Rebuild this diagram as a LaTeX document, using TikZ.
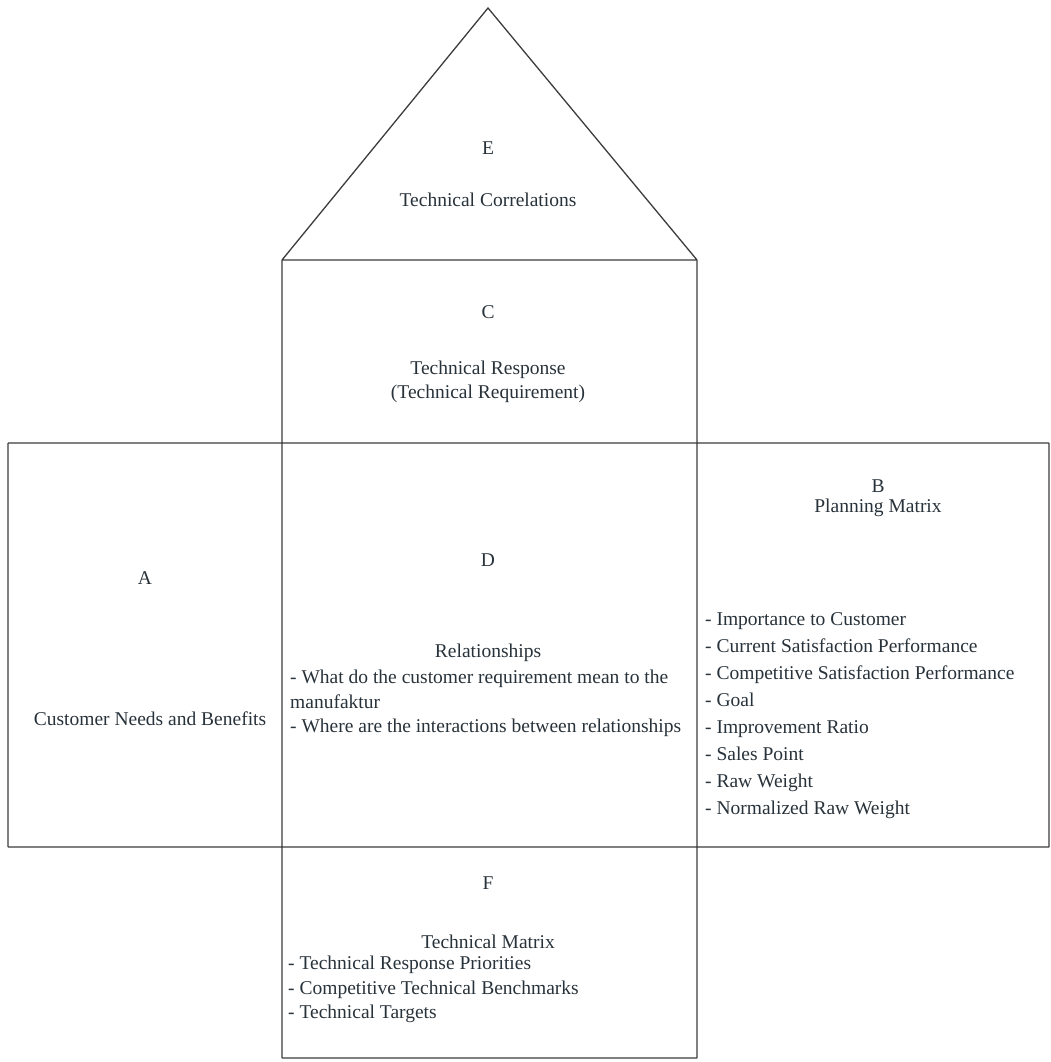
\documentclass[tikz,border=0pt]{standalone}
\usepackage{fontspec}
\setmainfont{Liberation Serif}
\usepackage{tikz}
\definecolor{inkgray}{RGB}{40,50,58}
\definecolor{linegray}{RGB}{60,60,60}

\begin{document}
\begin{tikzpicture}[x=1pt,y=-1pt,
	every node/.style={text=inkgray,font=\fontsize{19.5}{24.5}\selectfont,inner sep=0pt},
	lst/.style={anchor=north west,align=left},
	wall/.style={draw=linegray,line width=1.3pt}]
		\useasboundingbox (0,0) rectangle (1051,1062);

		% corners of the house
		\path (488,8) coordinate (apex)
		(282,260) coordinate (roofl)
		(697,260) coordinate (roofr)
		(8,443) coordinate (tl)
		(282,443) coordinate (cl)
		(697,443) coordinate (cr)
		(1049,443) coordinate (tr)
		(8,847) coordinate (bl)
		(282,847) coordinate (fl)
		(697,847) coordinate (fr)
		(1049,847) coordinate (br)
		(282,1058) coordinate (fbl)
		(697,1058) coordinate (fbr);

		\draw[wall] (roofl) -- (apex) -- (roofr)
		(roofl) -- (roofr)
		(roofl) -- (cl)
		(roofr) -- (cr)
		(tl) -- (tr)
		(bl) -- (br)
		(tl) -- (bl)
		(tr) -- (br)
		(cl) -- (fbl)
		(cr) -- (fbr)
		(fbl) -- (fbr);

		% room labels
		\path (488,148) node (e) {E}
		(488,200) node (ecorr) {Technical Correlations}
		(488,312) node (c) {C}
		(488,382) node[align=center] (cresp) {Technical Response\\(Technical Requirement)}
		(145,578) node (a) {A}
		(150,719) node (acust) {Customer Needs and Benefits}
		(488,560) node (d) {D}
		(488,653) node (drel) {Relationships}
		(290,670) node[lst] (dlist) {- What do the customer requirement mean to the\\manufaktur\\- Where are the interactions between relationships}
		(878,498) node[align=center,font=\fontsize{19.5}{20}\selectfont] (b) {B\\Planning Matrix}
		(705,612) node[lst,font=\fontsize{19.5}{27}\selectfont] (blist) {- Importance to Customer\\- Current Satisfaction Performance\\- Competitive Satisfaction Performance\\- Goal\\- Improvement Ratio\\- Sales Point\\- Raw Weight\\- Normalized Raw Weight}
		(488,883) node (f) {F}
		(488,942) node (fmat) {Technical Matrix}
		(288,956) node[lst] (flist) {- Technical Response Priorities\\- Competitive Technical Benchmarks\\- Technical Targets};
	\end{tikzpicture}
\end{document}
